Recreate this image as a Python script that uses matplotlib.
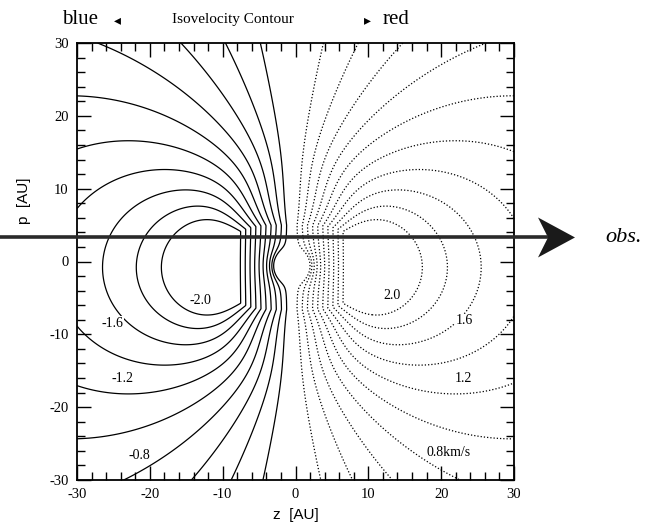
import numpy as np
import matplotlib.pyplot as plt
from matplotlib.ticker import MultipleLocator
from matplotlib.patches import Polygon
from matplotlib.lines import Line2D

plt.rcParams['axes.unicode_minus'] = False

# contour levels in km/s (blue side solid, red side dotted)
blue_levels = [-2.0, -1.8, -1.6, -1.4, -1.2, -1.0, -0.8, -0.6, -0.4, -0.2]
red_levels = [0.2, 0.4, 0.6, 0.8, 1.0, 1.2, 1.4, 1.6, 1.8, 2.0]

# hand placed contour labels
label_text = ['-2.0', '-1.6', '-1.2', '-0.8', '2.0', '1.6', '1.2', '0.8km/s']
label_z = [-13.0, -25.1, -23.7, -21.4, 13.3, 23.2, 23.0, 21.0]
label_p = [-5.4, -8.5, -16.1, -26.6, -4.7, -8.1, -16.1, -26.2]

# velocity model
z_c, p_c = -0.5, -0.8   # centre of the pattern
v_amp = 11.3            # outer part: v = v_amp * z / r^1.6
r_pow = 1.6
k_in = 0.286            # inner solid body gradient [km/s/AU]
hole_r, hole_p = 2.3, -0.6
obs_p = 3.3             # line of sight drawn as arrow

serif = 'Liberation Serif'
sans = 'Liberation Sans'

z = np.linspace(-30, 30, 601)
p = np.linspace(-30, 30, 601)
Z, P = np.meshgrid(z, p)
x = Z - z_c
y = P - p_c
r = np.hypot(x, y)
squash = 1 + 3.3 * np.exp(-(r / 8.0) ** 2)
with np.errstate(divide='ignore', invalid='ignore'):
    G = np.minimum(k_in, v_amp / (x**2 + squash * y**2) ** (r_pow / 2))
    rh = np.hypot(x, P - hole_p)
    V = x * G * (1 - (hole_r / rh) ** 4)
V = np.ma.masked_where(rh < hole_r * 1.02, V)

fig = plt.figure(figsize=(6.52, 5.27), dpi=100)
ax = fig.add_axes([77/652, 1 - 480/527, 437/652, 437/527])

ax.contour(Z, P, V, levels=blue_levels, colors='k', linewidths=0.9,
           linestyles='solid')
ax.contour(Z, P, V, levels=red_levels, colors='k', linewidths=0.9,
           linestyles=[(0, (1, 1.6))])

for t, lz, lp in zip(label_text, label_z, label_p):
    ax.text(lz, lp, t, fontsize=10, family=serif, ha='center', va='center',
            bbox=dict(fc='white', ec='none', pad=0.3))

ax.set_xlim(-30, 30)
ax.set_ylim(-30, 30)
ax.set_xticks(range(-30, 31, 10))
ax.set_yticks(range(-30, 31, 10))
ax.xaxis.set_minor_locator(MultipleLocator(2))
ax.yaxis.set_minor_locator(MultipleLocator(2))
ax.tick_params(which='both', direction='in', top=True, right=True,
               labelsize=10.5, width=1)
ax.tick_params(which='major', length=10, pad=6)
ax.tick_params(which='minor', length=6)
for lab in ax.get_xticklabels() + ax.get_yticklabels():
    lab.set_family(serif)
for s in ax.spines.values():
    s.set_linewidth(1.3)

ax.set_xlabel('z  [AU]', family=sans, fontsize=11)
ax.set_ylabel('p  [AU]', family=sans, fontsize=11)
ax.xaxis.set_label_coords(0.5, -0.063)
ax.yaxis.set_label_coords(-0.105, 0.64)

# header
fig.text(80/652, 1 - 20/527, 'blue', family=serif, fontsize=15, ha='center', va='center')
fig.text(117/652, 1 - 20/527, '\u25c2', fontsize=10, ha='center', va='center')
fig.text(233/652, 1 - 20/527, 'Isovelocity Contour', family=serif, fontsize=11,
         ha='center', va='center')
fig.text(367/652, 1 - 20/527, '\u25b8', fontsize=10, ha='center', va='center')
fig.text(396/652, 1 - 20/527, 'red', family=serif, fontsize=15, ha='center', va='center')

# observer line of sight
fig.canvas.draw()
ya = fig.transFigure.inverted().transform(ax.transData.transform((0, obs_p)))[1]
W, H = 652, 527
shaft = Line2D([0, 548/W], [ya, ya], transform=fig.transFigure, color='#2a2a2a',
               lw=2.6, solid_capstyle='butt')
fig.add_artist(shaft)
head = Polygon([(575/W, ya), (538/W, ya + 20/H), (548/W, ya), (538/W, ya - 20/H)],
               closed=True, transform=fig.transFigure, fc='#1a1a1a', ec='none')
fig.add_artist(head)
fig.text(624/W, ya, 'obs.', family=serif, style='italic', fontsize=16,
         ha='center', va='center')

fig.savefig('out.png', dpi=100)
